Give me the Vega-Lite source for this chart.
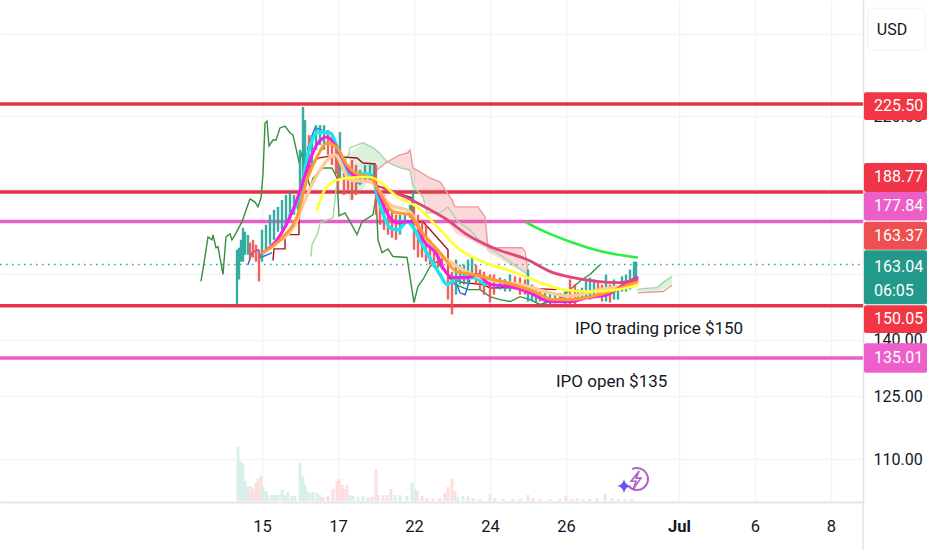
{"$schema":"https://vega.github.io/schema/vega-lite/v6.json","width":863,"height":502,"autosize":{"type":"none"},"padding":{"left":0,"top":0,"right":69,"bottom":48},"background":"#ffffff","config":{"view":{"stroke":null},"font":"Roboto"},
"datasets":{
"levels":[{"name":"a","price":225.5,"kind":"support","bar":-200,"barEnd":663},{"name":"b","price":188.77,"kind":"support","bar":-200,"barEnd":663},{"name":"c","price":150.05,"kind":"support","bar":-200,"barEnd":663},{"name":"d","price":177.84,"kind":"ipo","bar":-200,"barEnd":663},{"name":"e","price":135.01,"kind":"ipo","bar":-200,"barEnd":663}],
"cloud":[{"band":"pink","bar":173,"top":196.2,"bot":196.2},{"band":"pink","bar":187,"top":200.6,"bot":200.6},{"band":"pink","bar":200,"top":203.5,"bot":198.2},{"band":"pink","bar":210,"top":205.6,"bot":197.4},{"band":"pink","bar":213,"top":198.2,"bot":190.8},{"band":"pink","bar":223,"top":195.5,"bot":187},{"band":"pink","bar":230,"top":194.2,"bot":181},{"band":"pink","bar":240,"top":192.7,"bot":181},{"band":"pink","bar":252,"top":185.8,"bot":175.6},{"band":"pink","bar":255,"top":183.2,"bot":173.9},{"band":"pink","bar":278,"top":183.2,"bot":170},{"band":"pink","bar":285,"top":179.6,"bot":168.7},{"band":"pink","bar":288,"top":168.7,"bot":167.3},{"band":"pink","bar":322,"top":168.7,"bot":160.7},{"band":"pink","bar":328,"top":160.7,"bot":159.8},{"band":"green","bar":149,"top":203.9,"bot":185},{"band":"green","bar":163,"top":208.5,"bot":190},{"band":"green","bar":173,"top":206.5,"bot":196.2},{"band":"green","bar":180,"top":204.1,"bot":198.5},{"band":"green","bar":187,"top":200.6,"bot":200.6},{"band":"tail","bar":437,"top":155,"bot":154.4},{"band":"tail","bar":457,"top":155.6,"bot":154.4},{"band":"tail","bar":472,"top":159.2,"bot":156.3}],
"candles":[{"bar":37,"high":168,"low":150.4,"dir":"up"},{"bar":39,"high":168.7,"low":158.2,"dir":"up"},{"bar":41,"high":171.4,"low":164,"dir":"up"},{"bar":43,"high":175.6,"low":164,"dir":"up"},{"bar":45,"high":174.2,"low":166.3,"dir":"up"},{"bar":48,"high":173.1,"low":166.3,"dir":"up"},{"bar":50,"high":170.4,"low":164.7,"dir":"down"},{"bar":53,"high":171.4,"low":165.4,"dir":"down"},{"bar":56,"high":169.7,"low":164,"dir":"down"},{"bar":59,"high":168,"low":157.6,"dir":"down"},{"bar":62,"high":174.9,"low":164,"dir":"up"},{"bar":66,"high":176.7,"low":168,"dir":"up"},{"bar":70,"high":180.3,"low":169.7,"dir":"up"},{"bar":74,"high":182.1,"low":171.4,"dir":"up"},{"bar":78,"high":183.2,"low":174.2,"dir":"up"},{"bar":82,"high":185.8,"low":174.9,"dir":"up"},{"bar":86,"high":187.7,"low":176.7,"dir":"up"},{"bar":90,"high":188.4,"low":178.5,"dir":"up"},{"bar":94,"high":187.7,"low":180.3,"dir":"up"},{"bar":98,"high":185.8,"low":182.1,"dir":"up"},{"bar":100,"high":205.6,"low":185.8,"dir":"up"},{"bar":103,"high":224.2,"low":189.6,"dir":"up"},{"bar":105,"high":218.3,"low":197.4,"dir":"up"},{"bar":109,"high":211.8,"low":195.8,"dir":"down"},{"bar":112,"high":211.8,"low":199.4,"dir":"up"},{"bar":116,"high":216.1,"low":205.6,"dir":"up"},{"bar":120,"high":216.1,"low":207.6,"dir":"up"},{"bar":124,"high":216.1,"low":205.6,"dir":"up"},{"bar":128,"high":214,"low":203.5,"dir":"down"},{"bar":132,"high":211.8,"low":199.4,"dir":"down"},{"bar":136,"high":207.6,"low":195.8,"dir":"down"},{"bar":138,"high":205.6,"low":189.6,"dir":"down"},{"bar":140,"high":213.1,"low":193.4,"dir":"up"},{"bar":144,"high":201.4,"low":187.7,"dir":"down"},{"bar":148,"high":199.4,"low":189.6,"dir":"down"},{"bar":152,"high":201.4,"low":185.8,"dir":"down"},{"bar":156,"high":199.4,"low":187.7,"dir":"down"},{"bar":160,"high":197.4,"low":191.5,"dir":"up"},{"bar":165,"high":199.4,"low":193.4,"dir":"up"},{"bar":170,"high":199.4,"low":193.4,"dir":"up"},{"bar":174,"high":199.4,"low":193.4,"dir":"up"},{"bar":176,"high":199.4,"low":180.3,"dir":"down"},{"bar":180,"high":187.7,"low":176.7,"dir":"down"},{"bar":184,"high":187.7,"low":174.9,"dir":"down"},{"bar":188,"high":184,"low":173.2,"dir":"down"},{"bar":192,"high":182.1,"low":172.1,"dir":"down"},{"bar":196,"high":180.3,"low":171.4,"dir":"down"},{"bar":200,"high":180.3,"low":173.2,"dir":"up"},{"bar":205,"high":180.3,"low":176.7,"dir":"up"},{"bar":210,"high":184,"low":179.2,"dir":"up"},{"bar":213,"high":189.6,"low":176.7,"dir":"up"},{"bar":214,"high":184,"low":168,"dir":"down"},{"bar":218,"high":180.3,"low":165.4,"dir":"down"},{"bar":222,"high":178.5,"low":165.4,"dir":"down"},{"bar":226,"high":176.7,"low":164,"dir":"down"},{"bar":230,"high":171.4,"low":163,"dir":"down"},{"bar":234,"high":169.7,"low":162,"dir":"down"},{"bar":238,"high":168,"low":162,"dir":"down"},{"bar":242,"high":166.3,"low":161.4,"dir":"down"},{"bar":248,"high":163,"low":151.9,"dir":"down"},{"bar":252,"high":160.7,"low":147.4,"dir":"down"},{"bar":256,"high":164.7,"low":153.4,"dir":"up"},{"bar":260,"high":163,"low":156.6,"dir":"up"},{"bar":264,"high":163,"low":156.6,"dir":"up"},{"bar":268,"high":164.7,"low":156.6,"dir":"up"},{"bar":272,"high":165.4,"low":158.2,"dir":"up"},{"bar":276,"high":163,"low":156.6,"dir":"down"},{"bar":280,"high":161.4,"low":155,"dir":"down"},{"bar":284,"high":160.7,"low":153.4,"dir":"down"},{"bar":290,"high":159.8,"low":151,"dir":"down"},{"bar":294,"high":159.8,"low":153.4,"dir":"down"},{"bar":300,"high":158.8,"low":155,"dir":"up"},{"bar":305,"high":158.2,"low":154.4,"dir":"up"},{"bar":310,"high":159.8,"low":154.4,"dir":"up"},{"bar":315,"high":159.2,"low":155,"dir":"down"},{"bar":320,"high":158.8,"low":153.4,"dir":"down"},{"bar":325,"high":158.2,"low":153.4,"dir":"down"},{"bar":328,"high":161.4,"low":151.3,"dir":"up"},{"bar":332,"high":156.6,"low":151.3,"dir":"up"},{"bar":336,"high":155,"low":151,"dir":"up"},{"bar":340,"high":155,"low":151.3,"dir":"down"},{"bar":345,"high":154.4,"low":150.4,"dir":"up"},{"bar":350,"high":154,"low":150.4,"dir":"up"},{"bar":355,"high":154,"low":150.7,"dir":"up"},{"bar":360,"high":154,"low":151.3,"dir":"down"},{"bar":365,"high":154.4,"low":150.4,"dir":"up"},{"bar":370,"high":158.2,"low":150.4,"dir":"down"},{"bar":375,"high":156.6,"low":150.4,"dir":"down"},{"bar":378,"high":155,"low":151.9,"dir":"up"},{"bar":382,"high":155.6,"low":151.9,"dir":"up"},{"bar":386,"high":158.2,"low":152.5,"dir":"up"},{"bar":390,"high":158.8,"low":151.9,"dir":"up"},{"bar":394,"high":158.2,"low":153.4,"dir":"up"},{"bar":398,"high":157.2,"low":152.5,"dir":"down"},{"bar":402,"high":156.6,"low":151.3,"dir":"down"},{"bar":406,"high":159.8,"low":151.3,"dir":"up"},{"bar":410,"high":156.6,"low":151,"dir":"down"},{"bar":414,"high":158.2,"low":151.9,"dir":"up"},{"bar":418,"high":155,"low":151.9,"dir":"up"},{"bar":422,"high":159.2,"low":154.4,"dir":"up"},{"bar":426,"high":159.8,"low":154.4,"dir":"up"},{"bar":430,"high":161.4,"low":155,"dir":"up"},{"bar":434,"high":164,"low":158.2,"dir":"up"},{"bar":436,"high":164,"low":158.8,"dir":"up"}],
"volume":[{"bar":38,"v":54,"dir":"up"},{"bar":40,"v":40,"dir":"up"},{"bar":42,"v":38,"dir":"up"},{"bar":43,"v":36,"dir":"up"},{"bar":45,"v":20,"dir":"up"},{"bar":47,"v":12,"dir":"up"},{"bar":48,"v":15,"dir":"up"},{"bar":51,"v":15,"dir":"down"},{"bar":53,"v":12,"dir":"down"},{"bar":56,"v":18,"dir":"down"},{"bar":58,"v":22,"dir":"down"},{"bar":61,"v":25,"dir":"down"},{"bar":63,"v":14,"dir":"up"},{"bar":66,"v":10,"dir":"up"},{"bar":68,"v":6,"dir":"up"},{"bar":72,"v":6,"dir":"up"},{"bar":75,"v":6,"dir":"up"},{"bar":78,"v":6,"dir":"up"},{"bar":82,"v":11,"dir":"up"},{"bar":85,"v":6,"dir":"up"},{"bar":88,"v":9,"dir":"up"},{"bar":92,"v":5,"dir":"up"},{"bar":95,"v":5,"dir":"up"},{"bar":100,"v":38,"dir":"up"},{"bar":102,"v":25,"dir":"up"},{"bar":103,"v":22,"dir":"up"},{"bar":105,"v":16,"dir":"up"},{"bar":107,"v":10,"dir":"up"},{"bar":110,"v":8,"dir":"up"},{"bar":113,"v":9,"dir":"up"},{"bar":117,"v":8,"dir":"up"},{"bar":120,"v":6,"dir":"up"},{"bar":123,"v":4,"dir":"down"},{"bar":128,"v":5,"dir":"down"},{"bar":133,"v":12,"dir":"down"},{"bar":137,"v":20,"dir":"down"},{"bar":139,"v":22,"dir":"down"},{"bar":142,"v":16,"dir":"down"},{"bar":144,"v":12,"dir":"down"},{"bar":147,"v":16,"dir":"down"},{"bar":150,"v":6,"dir":"up"},{"bar":153,"v":5,"dir":"up"},{"bar":158,"v":4,"dir":"up"},{"bar":163,"v":5,"dir":"up"},{"bar":168,"v":4,"dir":"down"},{"bar":172,"v":4,"dir":"down"},{"bar":176,"v":32,"dir":"down"},{"bar":178,"v":6,"dir":"down"},{"bar":183,"v":6,"dir":"down"},{"bar":187,"v":6,"dir":"down"},{"bar":191,"v":12,"dir":"down"},{"bar":195,"v":6,"dir":"up"},{"bar":200,"v":6,"dir":"up"},{"bar":207,"v":5,"dir":"up"},{"bar":212,"v":18,"dir":"up"},{"bar":215,"v":12,"dir":"up"},{"bar":217,"v":10,"dir":"down"},{"bar":222,"v":5,"dir":"down"},{"bar":227,"v":3,"dir":"down"},{"bar":233,"v":2,"dir":"down"},{"bar":240,"v":3,"dir":"down"},{"bar":245,"v":8,"dir":"down"},{"bar":248,"v":14,"dir":"down"},{"bar":252,"v":22,"dir":"down"},{"bar":255,"v":10,"dir":"down"},{"bar":258,"v":4,"dir":"up"},{"bar":263,"v":5,"dir":"up"},{"bar":268,"v":5,"dir":"up"},{"bar":273,"v":3,"dir":"up"},{"bar":280,"v":2,"dir":"down"},{"bar":290,"v":6,"dir":"up"},{"bar":295,"v":3,"dir":"down"},{"bar":303,"v":2,"dir":"down"},{"bar":313,"v":2,"dir":"down"},{"bar":320,"v":2,"dir":"down"},{"bar":328,"v":6,"dir":"down"},{"bar":333,"v":3,"dir":"down"},{"bar":340,"v":2,"dir":"down"},{"bar":350,"v":2,"dir":"down"},{"bar":360,"v":2,"dir":"down"},{"bar":366,"v":5,"dir":"down"},{"bar":372,"v":2,"dir":"down"},{"bar":377,"v":3,"dir":"up"},{"bar":383,"v":2,"dir":"down"},{"bar":390,"v":2,"dir":"down"},{"bar":397,"v":3,"dir":"down"},{"bar":405,"v":7,"dir":"up"},{"bar":412,"v":3,"dir":"up"},{"bar":418,"v":2,"dir":"up"},{"bar":425,"v":2,"dir":"up"},{"bar":432,"v":2,"dir":"up"}],
"lines":[
{"series":"Chikou","bar":1,"price":157.6},{"series":"Chikou","bar":5,"price":165.7},{"series":"Chikou","bar":8,"price":172.4},{"series":"Chikou","bar":12,"price":171.4},{"series":"Chikou","bar":13,"price":173.1},{"series":"Chikou","bar":16,"price":168.7},{"series":"Chikou","bar":18,"price":169},{"series":"Chikou","bar":23,"price":159.8},{"series":"Chikou","bar":26,"price":172.4},{"series":"Chikou","bar":30,"price":173.5},{"series":"Chikou","bar":32,"price":171.4},{"series":"Chikou","bar":35,"price":173.1},{"series":"Chikou","bar":42,"price":177.8},{"series":"Chikou","bar":50,"price":186.2},{"series":"Chikou","bar":55,"price":185},{"series":"Chikou","bar":58,"price":183.2},{"series":"Chikou","bar":61,"price":186.6},{"series":"Chikou","bar":63,"price":195.8},{"series":"Chikou","bar":65,"price":217},{"series":"Chikou","bar":67,"price":217.9},{"series":"Chikou","bar":69,"price":207.2},{"series":"Chikou","bar":73,"price":209.7},{"series":"Chikou","bar":76,"price":209.7},{"series":"Chikou","bar":80,"price":214.9},{"series":"Chikou","bar":85,"price":215.7},{"series":"Chikou","bar":90,"price":212.7},{"series":"Chikou","bar":93,"price":211.9},{"series":"Chikou","bar":99,"price":200.6},{"series":"Chikou","bar":102,"price":204.3},{"series":"Chikou","bar":106,"price":197.4},{"series":"Chikou","bar":110,"price":190.4},{"series":"Chikou","bar":113,"price":194.2},{"series":"Chikou","bar":123,"price":198.2},{"series":"Chikou","bar":132,"price":198.2},{"series":"Chikou","bar":137,"price":194.2},{"series":"Chikou","bar":139,"price":179.9},{"series":"Chikou","bar":145,"price":181},{"series":"Chikou","bar":150,"price":177.8},{"series":"Chikou","bar":157,"price":173.2},{"series":"Chikou","bar":162,"price":177.8},{"series":"Chikou","bar":173,"price":180.3},{"series":"Chikou","bar":176,"price":187},{"series":"Chikou","bar":178,"price":171.4},{"series":"Chikou","bar":182,"price":167},{"series":"Chikou","bar":188,"price":168.3},{"series":"Chikou","bar":193,"price":165.7},{"series":"Chikou","bar":207,"price":165.4},{"series":"Chikou","bar":214,"price":151},{"series":"Chikou","bar":218,"price":156},{"series":"Chikou","bar":223,"price":158.2},{"series":"Chikou","bar":230,"price":162.4},{"series":"Chikou","bar":237,"price":164},{"series":"Chikou","bar":247,"price":159.8},{"series":"Chikou","bar":255,"price":156.6},{"series":"Chikou","bar":268,"price":155},{"series":"Chikou","bar":280,"price":155},{"series":"Chikou","bar":290,"price":152.8},{"series":"Chikou","bar":300,"price":151.9},{"series":"Chikou","bar":310,"price":151.3},{"series":"Chikou","bar":320,"price":152.8},{"series":"Chikou","bar":330,"price":151.9},{"series":"Chikou","bar":340,"price":150.4},{"series":"Chikou","bar":350,"price":151.3},{"series":"Chikou","bar":360,"price":151.9},{"series":"Chikou","bar":370,"price":155},{"series":"Chikou","bar":382,"price":158.2},{"series":"Chikou","bar":390,"price":159.8},{"series":"Chikou","bar":400,"price":163},
{"series":"SpanA","bar":111,"price":165.7},{"series":"SpanA","bar":112,"price":169.7},{"series":"SpanA","bar":118,"price":173.9},{"series":"SpanA","bar":120,"price":177.4},{"series":"SpanA","bar":133,"price":179.2},{"series":"SpanA","bar":136,"price":189.6},{"series":"SpanA","bar":140,"price":197.4},{"series":"SpanA","bar":149,"price":203.9},{"series":"SpanA","bar":150,"price":206.5},{"series":"SpanA","bar":163,"price":208.5},{"series":"SpanA","bar":173,"price":206.5},{"series":"SpanA","bar":180,"price":204.1},{"series":"SpanA","bar":187,"price":200.6},{"series":"SpanA","bar":200,"price":198.2},{"series":"SpanA","bar":210,"price":197.4},{"series":"SpanA","bar":213,"price":190.8},{"series":"SpanA","bar":223,"price":187},{"series":"SpanA","bar":227,"price":181},{"series":"SpanA","bar":240,"price":181},{"series":"SpanA","bar":248,"price":183.2},{"series":"SpanA","bar":258,"price":177.8},{"series":"SpanA","bar":270,"price":174.9},{"series":"SpanA","bar":283,"price":169.7},{"series":"SpanA","bar":300,"price":166.3},{"series":"SpanA","bar":328,"price":159.8},
{"series":"SpanA tail","bar":437,"price":155},{"series":"SpanA tail","bar":443,"price":155.3},{"series":"SpanA tail","bar":457,"price":155.6},{"series":"SpanA tail","bar":463,"price":157.2},{"series":"SpanA tail","bar":472,"price":159.2},
{"series":"SpanB","bar":173,"price":196.2},{"series":"SpanB","bar":187,"price":200.6},{"series":"SpanB","bar":200,"price":203.5},{"series":"SpanB","bar":208,"price":204.3},{"series":"SpanB","bar":210,"price":205.6},{"series":"SpanB","bar":213,"price":198.2},{"series":"SpanB","bar":220,"price":196.6},{"series":"SpanB","bar":230,"price":194.2},{"series":"SpanB","bar":240,"price":192.7},{"series":"SpanB","bar":252,"price":185.8},{"series":"SpanB","bar":255,"price":183.2},{"series":"SpanB","bar":278,"price":183.2},{"series":"SpanB","bar":285,"price":179.6},{"series":"SpanB","bar":288,"price":168.7},{"series":"SpanB","bar":322,"price":168.7},{"series":"SpanB","bar":325,"price":167.3},{"series":"SpanB","bar":328,"price":160.7},
{"series":"SpanB tail","bar":438,"price":154},{"series":"SpanB tail","bar":463,"price":154.4},{"series":"SpanB tail","bar":472,"price":156.3},
{"series":"Kijun","bar":73,"price":164.4},{"series":"Kijun","bar":74,"price":168.3},{"series":"Kijun","bar":85,"price":168.3},{"series":"Kijun","bar":85,"price":173.2},{"series":"Kijun","bar":99,"price":173.2},{"series":"Kijun","bar":99,"price":181},{"series":"Kijun","bar":102,"price":193.4},{"series":"Kijun","bar":110,"price":198.6},{"series":"Kijun","bar":118,"price":202.2},{"series":"Kijun","bar":130,"price":203},{"series":"Kijun","bar":157,"price":202.2},{"series":"Kijun","bar":163,"price":200.2},{"series":"Kijun","bar":175,"price":199.8},{"series":"Kijun","bar":175,"price":191.5},{"series":"Kijun","bar":197,"price":188.4},{"series":"Kijun","bar":212,"price":186.6},{"series":"Kijun","bar":212,"price":177.8},{"series":"Kijun","bar":223,"price":177.8},{"series":"Kijun","bar":248,"price":168},{"series":"Kijun","bar":248,"price":158.8},{"series":"Kijun","bar":263,"price":157.2},{"series":"Kijun","bar":283,"price":156.6},{"series":"Kijun","bar":290,"price":155.6},{"series":"Kijun","bar":317,"price":155.6},{"series":"Kijun","bar":357,"price":155},
{"series":"Blue A","bar":48,"price":163},{"series":"Blue A","bar":52,"price":167},{"series":"Blue A","bar":58,"price":168},{"series":"Blue A","bar":61,"price":165.4},{"series":"Blue A","bar":72,"price":167},
{"series":"Blue B","bar":107,"price":205.6},{"series":"Blue B","bar":115,"price":215},{"series":"Blue B","bar":122,"price":214},
{"series":"Blue C","bar":157,"price":192.3},{"series":"Blue C","bar":162,"price":192.3},
{"series":"Blue D","bar":255,"price":158.2},{"series":"Blue D","bar":260,"price":154},{"series":"Blue D","bar":265,"price":153.4},{"series":"Blue D","bar":270,"price":158.2},
{"series":"Blue E","bar":290,"price":155.6},{"series":"Blue E","bar":297,"price":155.6},{"series":"Blue E","bar":305,"price":158.2}
],
"mas":[
{"series":"Cyan","bar":90,"price":180.3},{"series":"Cyan","bar":100,"price":187.7},{"series":"Cyan","bar":109,"price":205.6},{"series":"Cyan","bar":118,"price":213.1},{"series":"Cyan","bar":130,"price":212.7},{"series":"Cyan","bar":140,"price":203.5},{"series":"Cyan","bar":150,"price":195.8},{"series":"Cyan","bar":160,"price":195.8},{"series":"Cyan","bar":170,"price":195.8},{"series":"Cyan","bar":180,"price":184},{"series":"Cyan","bar":190,"price":175.6},{"series":"Cyan","bar":198,"price":174.9},{"series":"Cyan","bar":207,"price":177.8},{"series":"Cyan","bar":225,"price":168},{"series":"Cyan","bar":240,"price":159.8},{"series":"Cyan","bar":247,"price":156.6},{"series":"Cyan","bar":255,"price":158.2},{"series":"Cyan","bar":270,"price":159.2},{"series":"Cyan","bar":285,"price":156.6},
{"series":"Peach","bar":75,"price":170.4},{"series":"Peach","bar":95,"price":176.7},{"series":"Peach","bar":105,"price":185.8},{"series":"Peach","bar":120,"price":197.4},{"series":"Peach","bar":135,"price":203.5},{"series":"Peach","bar":150,"price":193.4},{"series":"Peach","bar":170,"price":192.7},{"series":"Peach","bar":190,"price":184},{"series":"Peach","bar":210,"price":181.4},{"series":"Peach","bar":225,"price":171.4},{"series":"Peach","bar":250,"price":164},{"series":"Peach","bar":280,"price":158.8},{"series":"Peach","bar":320,"price":156.6},{"series":"Peach","bar":370,"price":153},{"series":"Peach","bar":400,"price":155},{"series":"Peach","bar":437,"price":156.6},
{"series":"Magenta","bar":63,"price":167},{"series":"Magenta","bar":77,"price":171.4},{"series":"Magenta","bar":93,"price":182.1},{"series":"Magenta","bar":102,"price":191.5},{"series":"Magenta","bar":110,"price":201.4},{"series":"Magenta","bar":118,"price":208.5},{"series":"Magenta","bar":127,"price":211},{"series":"Magenta","bar":135,"price":207.6},{"series":"Magenta","bar":142,"price":202.6},{"series":"Magenta","bar":150,"price":196.6},{"series":"Magenta","bar":160,"price":194.6},{"series":"Magenta","bar":172,"price":194.6},{"series":"Magenta","bar":180,"price":187},{"series":"Magenta","bar":190,"price":179.2},{"series":"Magenta","bar":198,"price":177.4},{"series":"Magenta","bar":207,"price":177.8},{"series":"Magenta","bar":215,"price":177.8},{"series":"Magenta","bar":223,"price":171.4},{"series":"Magenta","bar":237,"price":166.3},{"series":"Magenta","bar":243,"price":162},{"series":"Magenta","bar":253,"price":158.8},{"series":"Magenta","bar":267,"price":158.8},{"series":"Magenta","bar":277,"price":159.8},{"series":"Magenta","bar":290,"price":156.6},{"series":"Magenta","bar":310,"price":156},{"series":"Magenta","bar":330,"price":154},{"series":"Magenta","bar":350,"price":151.3},{"series":"Magenta","bar":370,"price":151.3},{"series":"Magenta","bar":387,"price":152.5},{"series":"Magenta","bar":407,"price":153.4},{"series":"Magenta","bar":427,"price":157.2},{"series":"Magenta","bar":437,"price":158.8},
{"series":"Orange","bar":63,"price":167},{"series":"Orange","bar":83,"price":172.4},{"series":"Orange","bar":97,"price":179.6},{"series":"Orange","bar":107,"price":193.5},{"series":"Orange","bar":117,"price":202.6},{"series":"Orange","bar":127,"price":208.5},{"series":"Orange","bar":137,"price":206.5},{"series":"Orange","bar":147,"price":199.4},{"series":"Orange","bar":157,"price":195.8},{"series":"Orange","bar":170,"price":194.6},{"series":"Orange","bar":180,"price":188.4},{"series":"Orange","bar":193,"price":181.4},{"series":"Orange","bar":210,"price":180.3},{"series":"Orange","bar":220,"price":174.9},{"series":"Orange","bar":240,"price":167},{"series":"Orange","bar":257,"price":160.7},{"series":"Orange","bar":273,"price":159.8},{"series":"Orange","bar":293,"price":158.2},{"series":"Orange","bar":313,"price":156.6},{"series":"Orange","bar":337,"price":154},{"series":"Orange","bar":353,"price":151.9},{"series":"Orange","bar":373,"price":151.9},{"series":"Orange","bar":390,"price":152.8},{"series":"Orange","bar":410,"price":154.4},{"series":"Orange","bar":437,"price":157.6},
{"series":"Crimson","bar":183,"price":190.4},{"series":"Crimson","bar":207,"price":186.6},{"series":"Crimson","bar":230,"price":182.1},{"series":"Crimson","bar":247,"price":178.5},{"series":"Crimson","bar":267,"price":173.2},{"series":"Crimson","bar":293,"price":168.7},{"series":"Crimson","bar":327,"price":164.7},{"series":"Crimson","bar":353,"price":160.4},{"series":"Crimson","bar":373,"price":158.8},{"series":"Crimson","bar":397,"price":157.6},{"series":"Crimson","bar":420,"price":157.2},{"series":"Crimson","bar":437,"price":158.2},
{"series":"Yellow","bar":117,"price":182.1},{"series":"Yellow","bar":123,"price":188.4},{"series":"Yellow","bar":133,"price":192.7},{"series":"Yellow","bar":147,"price":194.2},{"series":"Yellow","bar":170,"price":194.6},{"series":"Yellow","bar":180,"price":192.7},{"series":"Yellow","bar":197,"price":187},{"series":"Yellow","bar":217,"price":183.2},{"series":"Yellow","bar":240,"price":174.9},{"series":"Yellow","bar":260,"price":168},{"series":"Yellow","bar":283,"price":164},{"series":"Yellow","bar":313,"price":160.7},{"series":"Yellow","bar":337,"price":157.6},{"series":"Yellow","bar":363,"price":155},{"series":"Yellow","bar":390,"price":154.4},{"series":"Yellow","bar":417,"price":155},{"series":"Yellow","bar":437,"price":156.3},
{"series":"Lime","bar":327,"price":177.4},{"series":"Lime","bar":347,"price":173.9},{"series":"Lime","bar":373,"price":170.4},{"series":"Lime","bar":403,"price":167.3},{"series":"Lime","bar":437,"price":165.4}
],
"notes":[{"text":"IPO trading price $150","bar":375,"price":143.1},{"text":"IPO open $135","bar":356,"price":128.6}],
"tags":[{"name":"225.50","top":231,"bot":218.4,"bar":664,"barEnd":727},{"name":"188.77","top":200.2,"bot":188.8,"bar":664,"barEnd":727},{"name":"177.84","top":188.8,"bot":178.2,"bar":664,"barEnd":727},{"name":"163.37","top":177.8,"bot":168,"bar":664,"barEnd":727},{"name":"163.04","top":167.8,"bot":150.5,"bar":664,"barEnd":727},{"name":"150.05","top":150.2,"bot":142,"bar":664,"barEnd":727},{"name":"135.01","top":139.1,"bot":131,"bar":664,"barEnd":727}],
"taglabels":[{"text":"225.50","price":224.6,"bar":674},{"text":"188.77","price":194.6,"bar":674},{"text":"177.84","price":183.5,"bar":674},{"text":"163.37","price":172.7,"bar":674},{"text":"163.04","price":162.2,"bar":674},{"text":"06:05","price":154.6,"bar":674},{"text":"150.05","price":146.1,"bar":674},{"text":"135.01","price":135,"bar":674}]
},
"encoding":{"x":{"field":"bar","type":"quantitative","scale":{"domain":[-200,663],"nice":false,"zero":false,"padding":0},"axis":{"title":null,"values":[62,138,214,290,366,479,555,631],"labelExpr":"['15','17','22','24','26','Jul','6','8'][indexof([62,138,214,290,366,479,555,631],datum.value)]","labelFontWeight":{"condition":{"test":"datum.value==479","value":"bold"},"value":"normal"},"labelFont":"Roboto","labelFontSize":16.5,"labelColor":"#131722","labelPadding":16,"tickSize":0,"grid":true,"gridColor":"#f3f4f6","gridWidth":1.5,"domainColor":"#e4e5e8","domainWidth":2}}},
"resolve":{"scale":{"y":"independent","color":"independent"}},
"layer":[
{"resolve":{"scale":{"y":"shared","color":"independent","strokeWidth":"independent"}},"layer":[
{"data":{"name":"levels"},"mark":{"type":"rule","strokeWidth":3.5},"encoding":{"x2":{"field":"barEnd"},"y":{"field":"price","type":"quantitative","scale":{"type":"log","domain":[100.9,278.3],"nice":false},"axis":{"title":null,"orient":"right","values":[110,125,140,160,190,220,260],"labelExpr":"datum.value==260||datum.value==160||datum.value==190?'':format(datum.value,'.2f')","labelFont":"Roboto","labelFontSize":16,"labelColor":"#131722","labelPadding":10,"tickSize":0,"grid":true,"gridColor":"#f3f4f6","gridWidth":1.5,"domainColor":"#e2e3e6","domainWidth":1.5}},"color":{"field":"kind","type":"nominal","scale":{"domain":["support","ipo"],"range":["#e5344a","#e85fc8"]},"legend":null},"detail":{"field":"name"}}},
{"data":{"values":[{"price":163.04,"bar":-200,"barEnd":663}]},"mark":{"type":"rule","strokeWidth":1.5,"strokeDash":[1.5,4.5],"color":"#26a69a"},"encoding":{"x2":{"field":"barEnd"},"y":{"field":"price","type":"quantitative"}}},
{"data":{"values":[{"from":100.9,"to":91.6,"bar":663}]},"mark":{"type":"rule","strokeWidth":1.5,"color":"#e2e3e6"},"encoding":{"y":{"field":"from","type":"quantitative"},"y2":{"field":"to"}}},
{"data":{"name":"cloud"},"mark":{"type":"area","interpolate":"linear","opacity":0.22},"encoding":{"y":{"field":"top","type":"quantitative"},"y2":{"field":"bot"},"color":{"field":"band","type":"nominal","scale":{"domain":["pink","green","tail"],"range":["#ef5350","#66bb6a","#66bb6a"]},"legend":null}}},
{"data":{"name":"lines"},"mark":{"type":"line","interpolate":"linear"},"encoding":{"y":{"field":"price","type":"quantitative"},"color":{"field":"series","type":"nominal","legend":null,"scale":{"domain":["Chikou","SpanA","SpanA tail","SpanB","SpanB tail","Kijun","Blue A","Blue B","Blue C","Blue D","Blue E"],"range":["#388e3c","#a5d6a7","#a5d6a7","#ef9a9a","#ef9a9a","#a31515","#2962ff","#2962ff","#2962ff","#2962ff","#2962ff"]}},"strokeWidth":{"value":1.4}}},
{"data":{"name":"candles"},"mark":{"type":"rule","strokeWidth":2.4,"opacity":0.92},"encoding":{"y":{"field":"high","type":"quantitative"},"y2":{"field":"low"},"color":{"field":"dir","type":"nominal","legend":null,"scale":{"domain":["up","down"],"range":["#26a69a","#ef5350"]}}}},
{"data":{"name":"mas"},"mark":{"type":"line","interpolate":"monotone","strokeCap":"round"},"encoding":{"y":{"field":"price","type":"quantitative"},"color":{"field":"series","type":"nominal","legend":null,"scale":{"domain":["Cyan","Peach","Magenta","Orange","Crimson","Yellow","Lime"],"range":["#19e6ee","#ffcc99","#ee22e0","#ff9a2e","#e0467c","#ffff33","#2bef3f"]}},"strokeWidth":{"field":"series","type":"nominal","legend":null,"scale":{"domain":["Cyan","Peach","Magenta","Orange","Crimson","Yellow","Lime"],"range":[3.5,2.5,4.5,3.5,6.5,7.5,5]}}}},
{"data":{"values":[{"bar":437,"price":105.7}]},"mark":{"type":"point","filled":false,"size":484,"strokeWidth":2,"color":"#8e24aa","shape":"M -0.45 -0.89 A 1 1 0 1 1 -0.75 0.66"},"encoding":{"y":{"field":"price","type":"quantitative"}}},
{"data":{"values":[{"bar":436,"price":105.5}]},"mark":{"type":"point","filled":false,"size":324,"strokeWidth":1.6,"color":"#8e24aa","shape":"M 0.35 -1 L -0.55 0.15 L 0 0.15 L -0.3 1 L 0.55 -0.2 L 0 -0.2 Z"},"encoding":{"y":{"field":"price","type":"quantitative"}}},
{"data":{"values":[{"bar":424,"price":104.2}]},"mark":{"type":"point","filled":true,"opacity":1,"size":196,"color":"#6a4ff0","shape":"M 0 -1 Q 0.15 -0.15 1 0 Q 0.15 0.15 0 1 Q -0.15 0.15 -1 0 Q -0.15 -0.15 0 -1 Z"},"encoding":{"y":{"field":"price","type":"quantitative"}}},
{"data":{"name":"notes"},"mark":{"type":"text","align":"left","baseline":"middle","font":"Roboto","fontSize":17,"color":"#131722"},"encoding":{"y":{"field":"price","type":"quantitative"},"text":{"field":"text"}}},
{"data":{"name":"tags"},"mark":{"type":"rect","cornerRadius":2},"encoding":{"x2":{"field":"barEnd"},"y":{"field":"top","type":"quantitative"},"y2":{"field":"bot"},"color":{"field":"name","type":"nominal","scale":{"domain":["225.50","188.77","177.84","163.37","163.04","150.05","135.01"],"range":["#f23645","#f03548","#ec5fc9","#ee4f50","#22998b","#f23645","#ee5fcb"]},"legend":null}}},
{"data":{"name":"taglabels"},"mark":{"type":"text","align":"left","baseline":"middle","font":"Roboto","fontSize":16,"color":"#ffffff"},"encoding":{"y":{"field":"price","type":"quantitative"},"text":{"field":"text"}}},
{"data":{"values":[{"top":273.8,"bot":251.5,"bar":668,"barEnd":725}]},"mark":{"type":"rect","cornerRadius":4,"fill":"#ffffff","stroke":"#f2f3f6","strokeWidth":1},"encoding":{"x2":{"field":"barEnd"},"y":{"field":"top","type":"quantitative"},"y2":{"field":"bot"}}},
{"data":{"values":[{"text":"USD","price":261.9,"bar":692}]},"mark":{"type":"text","align":"center","baseline":"middle","font":"Roboto","fontSize":16,"color":"#131722"},"encoding":{"y":{"field":"price","type":"quantitative"},"text":{"field":"text"}}}
]},
{"data":{"name":"volume"},"mark":{"type":"bar","size":3,"orient":"vertical"},"encoding":{"y":{"field":"v","type":"quantitative","scale":{"domain":[0,60],"range":[501,441],"nice":false},"axis":null},"color":{"field":"dir","type":"nominal","legend":null,"scale":{"domain":["up","down"],"range":["#d8efec","#fcdede"]}}}}
]}
